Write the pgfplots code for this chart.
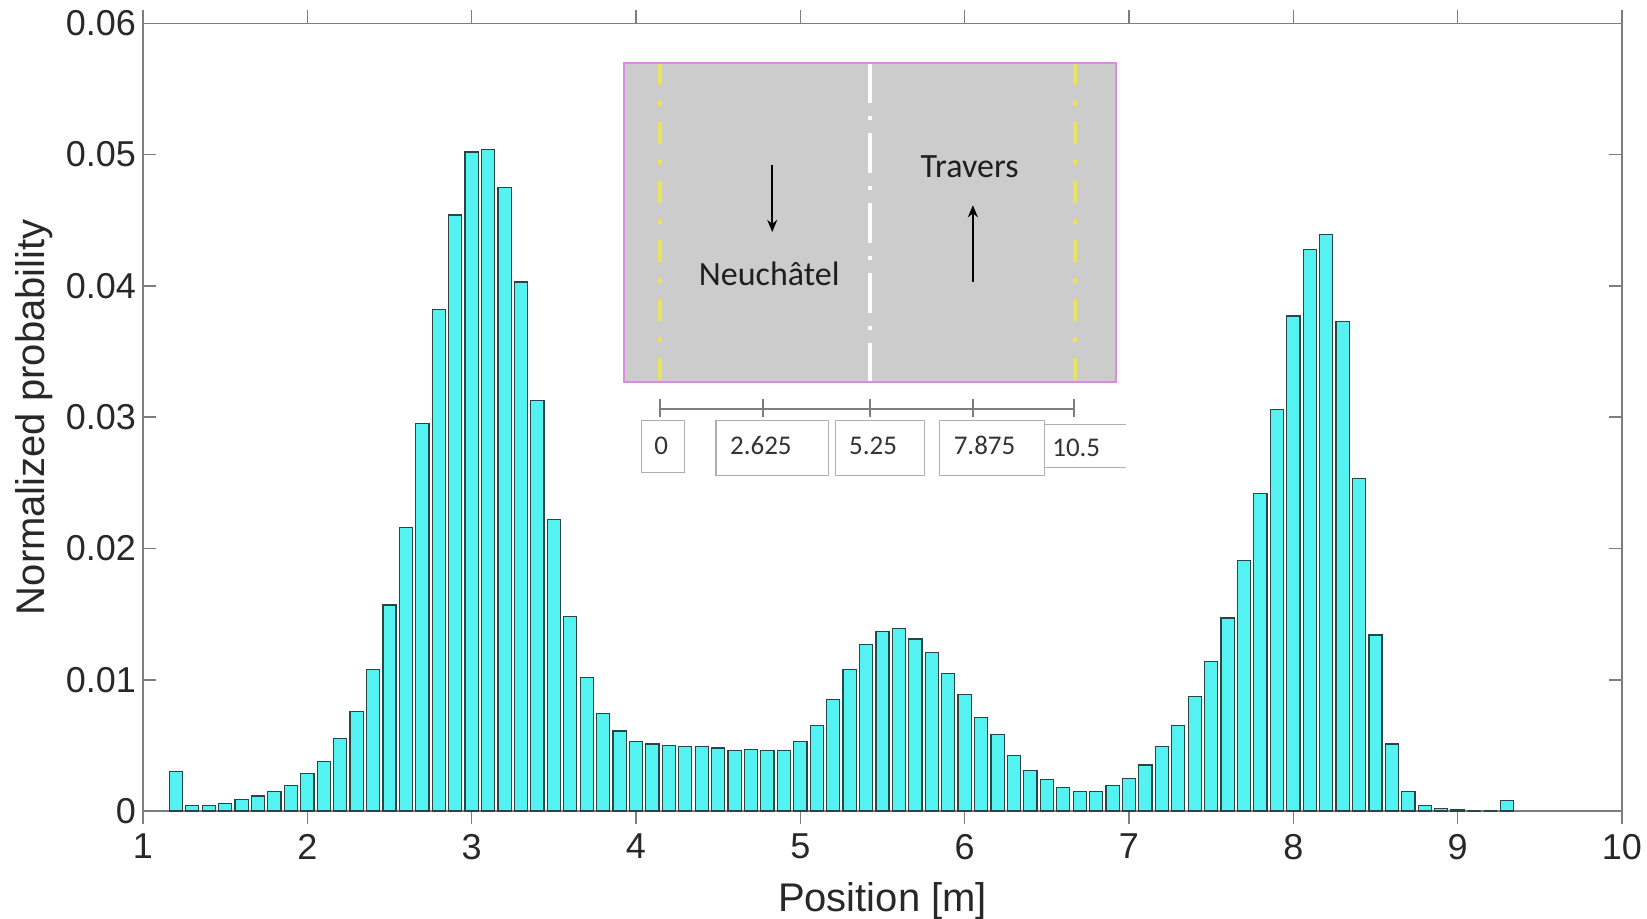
\documentclass[border=0pt]{standalone}
\usepackage{fontspec}
\setmainfont{Liberation Sans}
\newfontfamily\calibri{Carlito}
\usepackage{pgfplots}
\usepackage{pgfplotstable}
\pgfplotsset{compat=1.18}
\usetikzlibrary{arrows.meta}

\definecolor{barfill}{RGB}{85,242,242}
\definecolor{baredge}{RGB}{40,70,70}
\definecolor{axgray}{RGB}{125,125,125}
\definecolor{txtgray}{RGB}{40,40,40}
\definecolor{road}{RGB}{204,204,204}
\definecolor{roadedge}{RGB}{218,140,224}
\definecolor{lane}{RGB}{232,228,90}
\definecolor{scalegray}{RGB}{125,125,125}
\definecolor{boxgray}{RGB}{175,175,175}

% Lateral position histogram (bin centres in m, normalized probability)
\pgfplotstableread{
pos prob
1.2 0.0030
1.3 0.0004
1.4 0.00043
1.5 0.0006
1.6 0.00087
1.7 0.00115
1.8 0.0015
1.9 0.00196
2.0 0.00285
2.1 0.0038
2.2 0.0055
2.3 0.0076
2.4 0.0108
2.5 0.0157
2.6 0.0216
2.7 0.0295
2.8 0.0382
2.9 0.0454
3.0 0.0502
3.1 0.0504
3.2 0.0475
3.3 0.0403
3.4 0.0313
3.5 0.0222
3.6 0.0148
3.7 0.0102
3.8 0.0074
3.9 0.0061
4.0 0.0053
4.1 0.0051
4.2 0.0050
4.3 0.0049
4.4 0.0049
4.5 0.0048
4.6 0.0046
4.7 0.0047
4.8 0.0046
4.9 0.0046
5.0 0.0053
5.1 0.0065
5.2 0.0085
5.3 0.0108
5.4 0.0127
5.5 0.0137
5.6 0.0139
5.7 0.0131
5.8 0.0121
5.9 0.0105
6.0 0.0089
6.1 0.0071
6.2 0.0058
6.3 0.0042
6.4 0.0031
6.5 0.0024
6.6 0.0018
6.7 0.0015
6.8 0.0015
6.9 0.00196
7.0 0.0025
7.1 0.0035
7.2 0.0049
7.3 0.0065
7.4 0.0087
7.5 0.0114
7.6 0.0147
7.7 0.0191
7.8 0.0242
7.9 0.0306
8.0 0.0377
8.1 0.0428
8.2 0.0439
8.3 0.0373
8.4 0.0253
8.5 0.0134
8.6 0.0051
8.7 0.0015
8.8 0.00043
8.9 0.0002
9.0 0.0001
9.1 0
9.2 0
9.3 0.0008
}\histdata

\begin{document}
\begin{tikzpicture}
\begin{axis}[
  at={(0,0)}, anchor=south west,
  scale only axis, width=739.5pt, height=393.85pt,
  xmin=1, xmax=10, ymin=0, ymax=0.06,
  xtick={1,2,3,4,5,6,7,8,9,10},
  ytick={0,0.01,0.02,0.03,0.04,0.05,0.06},
  yticklabels={0,0.01,0.02,0.03,0.04,0.05,0.06},
  scaled y ticks=false,
  tick align=inside, major tick length=6.5pt,
  axis line style={axgray, line width=0.8pt},
  every tick/.style={axgray, line width=0.8pt},
  /pgf/number format/assume math mode=true,
  tick label style={font=\fontsize{18}{18}\selectfont, text=txtgray},
  xticklabel style={yshift=-1.5pt},
  label style={font=\fontsize{20}{20}\selectfont, text=txtgray},
  xlabel={Position [m]},
  ylabel={Normalized probability},
  xlabel style={at={(axis description cs:0.5,-0.1277)}, anchor=base},
  ylabel style={at={(axis description cs:-0.0665,0.5)}, anchor=base},
  ybar, bar width=0.08,
]
\addplot[fill=barfill, draw=baredge, line width=0.6pt] table[x=pos, y=prob] {\histdata};

% road sketch: carriageway with lane markings
\fill[road] (axis cs:3.93,0.03266) rectangle (axis cs:6.92,0.0570);
\draw[lane, line width=2pt, dash pattern=on 11pt off 8pt on 2.5pt off 8pt]
  (axis cs:4.145,0.0570) -- (axis cs:4.145,0.03266);
\draw[lane, line width=2pt, dash pattern=on 11pt off 8pt on 2.5pt off 8pt]
  (axis cs:6.670,0.0570) -- (axis cs:6.670,0.03266);
\draw[white, line width=2pt, dash pattern=on 20pt off 6.5pt on 2pt off 6.5pt]
  (axis cs:5.423,0.0570) -- (axis cs:5.423,0.03266);
\draw[roadedge, line width=1pt] (axis cs:3.93,0.03266) rectangle (axis cs:6.92,0.0570);

\node[font=\calibri\fontsize{17}{17}\selectfont, text=black!88] at (axis cs:6.030,0.04907) {Travers};
\node[font=\calibri\fontsize{17}{17}\selectfont, text=black!88] at (axis cs:4.811,0.04093) {Neuchâtel};
\draw[-{Stealth[length=6pt,width=5pt]}, line width=1pt] (axis cs:4.829,0.04919) -- (axis cs:4.829,0.04411);
\draw[-{Stealth[length=6pt,width=5pt]}, line width=1pt] (axis cs:6.050,0.04029) -- (axis cs:6.050,0.04614);

% width scale
\draw[scalegray, line width=1pt] (axis cs:4.147,0.03062) -- (axis cs:6.668,0.03062);
\draw[scalegray, line width=1pt]
  (axis cs:4.147,0.03138) -- (axis cs:4.147,0.02998)
  (axis cs:4.775,0.03138) -- (axis cs:4.775,0.02998)
  (axis cs:5.423,0.03138) -- (axis cs:5.423,0.02998)
  (axis cs:6.050,0.03138) -- (axis cs:6.050,0.02998)
  (axis cs:6.668,0.03138) -- (axis cs:6.668,0.02998);
\draw[boxgray, line width=0.6pt] (axis cs:4.032,0.02578) rectangle (axis cs:4.293,0.02972);
\draw[boxgray, line width=0.6pt] (axis cs:4.487,0.02558) rectangle (axis cs:5.170,0.02972);
\draw[boxgray, line width=0.6pt] (axis cs:5.216,0.02558) rectangle (axis cs:5.757,0.02972);
\draw[boxgray, line width=0.6pt] (axis cs:5.848,0.02558) rectangle (axis cs:6.486,0.02972);
\draw[boxgray, line width=0.6pt] (axis cs:6.486,0.02947) -- (axis cs:6.984,0.02947)
  (axis cs:6.486,0.02619) -- (axis cs:6.984,0.02619);
\node[font=\calibri\fontsize{13.5}{13.5}\selectfont, text=black!80] at (axis cs:4.153,0.02782) {0};
\node[font=\calibri\fontsize{13.5}{13.5}\selectfont, text=black!80] at (axis cs:4.760,0.02782) {2.625};
\node[font=\calibri\fontsize{13.5}{13.5}\selectfont, text=black!80] at (axis cs:5.443,0.02782) {5.25};
\node[font=\calibri\fontsize{13.5}{13.5}\selectfont, text=black!80] at (axis cs:6.121,0.02782) {7.875};
\node[font=\calibri\fontsize{13.5}{13.5}\selectfont, text=black!80] at (axis cs:6.679,0.02769) {10.5};
\end{axis}
\pgfresetboundingbox
\path (-71.5pt,-53.5pt) rectangle (752pt,405.5pt);
\end{tikzpicture}
\end{document}
